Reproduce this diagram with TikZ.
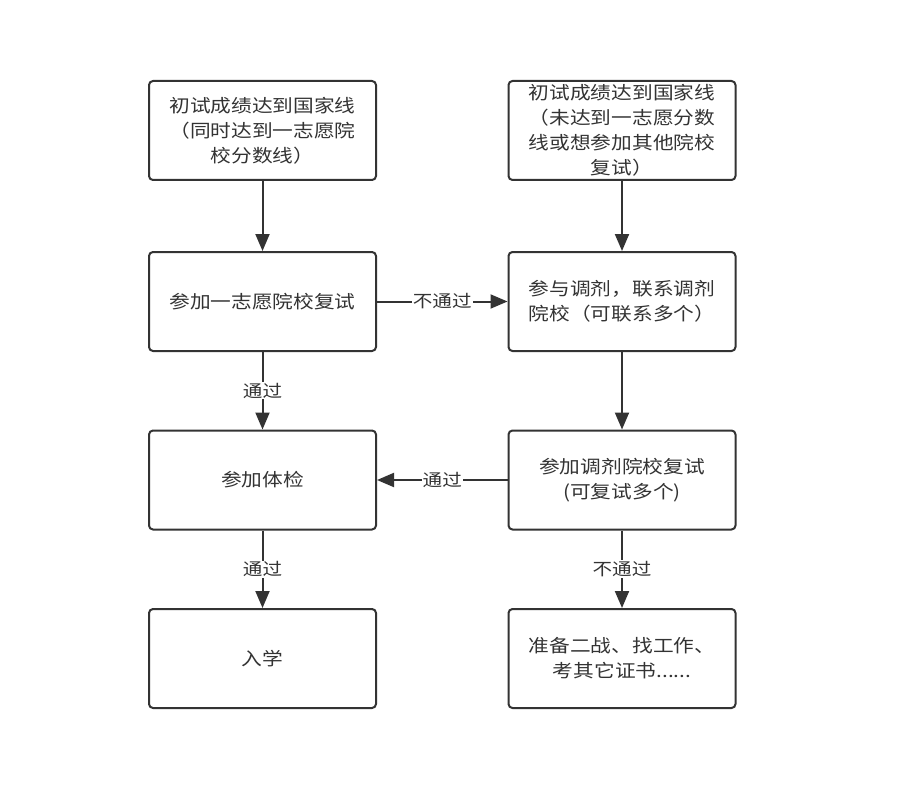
\documentclass[tikz,border=0pt]{standalone}
\usepackage{fontspec}
\setmainfont{Noto Sans CJK SC}
\newfontfamily\cjk[FakeStretch=1.15]{Noto Sans CJK SC}
\usetikzlibrary{arrows.meta}
\definecolor{ink}{HTML}{333333}
\tikzset{
  box/.style={draw=ink, line width=2pt, rounded corners=4pt, fill=white,
    minimum width=227pt, minimum height=99pt, align=center, text=ink,
    inner sep=0pt, font=\cjk\fontsize{18}{25}\selectfont},
  arr/.style={draw=ink, line width=2pt, -{Triangle[length=17pt,width=14pt]}},
  lbl/.style={fill=white, text=ink, inner sep=1pt, font=\cjk\fontsize{17}{20}\selectfont}
}
\begin{document}
\begin{tikzpicture}[x=1pt,y=-1pt]
\useasboundingbox (0,0) rectangle (901,802);
\node[box] (L1) at (262.5,130.5) {初试成绩达到国家线\\（同时达到一志愿院\\校分数线）};
\node[box] (L2) at (262.5,301.5) {参加一志愿院校复试};
\node[box] (L3) at (262.5,480) {参加体检};
\node[box] (L4) at (262.5,658.5) {入学};
\node[box] (R1) at (622,130.5) {初试成绩达到国家线\\（未达到一志愿分数\\线或想参加其他院校\\复试）};
\node[box] (R2) at (622,301.5) {参与调剂，联系调剂\\院校（可联系多个）};
\node[box] (R3) at (622,480) {参加调剂院校复试\\(可复试多个)};
\node[box] (R4) at (622,658.5) {准备二战、找工作、\\考其它证书......};
\draw[arr] (L1.south) -- (L2.north);
\draw[arr] (R1.south) -- (R2.north);
\draw[arr] (L2.east) -- node[lbl]{不通过} (R2.west);
\draw[arr] (L2.south) -- node[lbl]{通过} (L3.north);
\draw[arr] (R2.south) -- (R3.north);
\draw[arr] (R3.west) -- node[lbl]{通过} (L3.east);
\draw[arr] (L3.south) -- node[lbl]{通过} (L4.north);
\draw[arr] (R3.south) -- node[lbl]{不通过} (R4.north);
\end{tikzpicture}
\end{document}
